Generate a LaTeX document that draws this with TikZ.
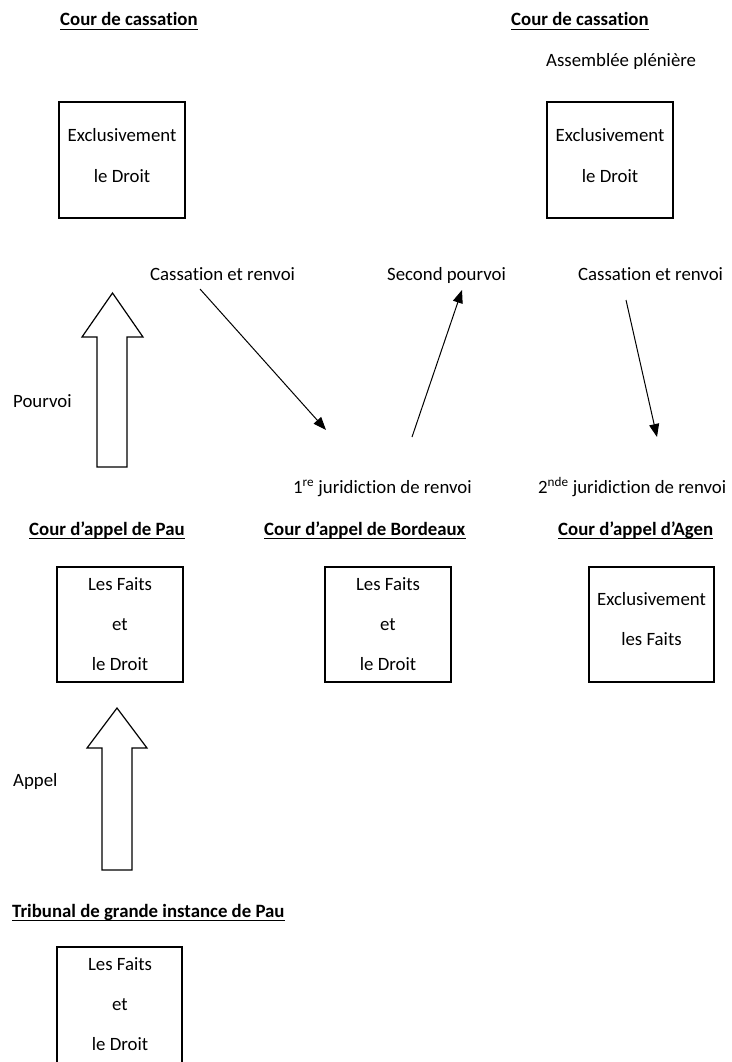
\documentclass[tikz,border=0pt]{standalone}
\usepackage{fontspec}
\setmainfont{Carlito}[Ligatures=NoCommon]
\usetikzlibrary{arrows.meta}
\tikzset{
  txt/.style={inner sep=0pt, anchor=base, font=\fontsize{18.8}{22}\selectfont},
  txtw/.style={inner sep=0pt, anchor=base west, font=\fontsize{18.8}{22}\selectfont},
  ttl/.style={inner sep=0pt, anchor=base west, font=\fontsize{18.8}{22}\selectfont\bfseries},
  ul/.style={line width=1.4pt},
  boxnode/.style={draw, line width=1.3pt, minimum width=126pt, minimum height=116pt, inner sep=0pt},
  thin/.style={line width=1pt, -{Triangle[length=13pt,width=10pt]}},
  blockarrow/.style={draw, line width=1.2pt, line join=miter, fill=white}
}
\begin{document}
\begin{tikzpicture}[x=1pt,y=-1pt]
\clip (0,0) rectangle (731,1062);
\fill[white] (0,0) rectangle (731,1062);

% titles
\node[ttl] (cc1) at (60,26) {Cour de cassation};
\node[ttl] (cc2) at (511,26) {Cour de cassation};
\node[txtw] (ap) at (546,67) {Assemblée plénière};
\node[ttl] (cap) at (29,535) {Cour d’appel de Pau};
\node[ttl] (cab) at (264,535) {Cour d’appel de Bordeaux};
\node[ttl] (caa) at (558,535) {Cour d’appel d’Agen};
\node[ttl] (tgi) at (12,917) {Tribunal de grande instance de Pau};
\foreach \n in {cc1,cc2,cap,cab,caa,tgi}{
  \draw[ul] ([yshift=-3.5pt]\n.base west) -- ([yshift=-3.5pt]\n.base east);
}

% boxes
\node[boxnode] (b1) at (122,160) {};
\node[txt] (b1a) at (122,142) {Exclusivement};
\node[txt] (b1b) at (122,182) {le Droit};

\node[boxnode] (b2) at (610,160) {};
\node[txt] (b2a) at (610,142) {Exclusivement};
\node[txt] (b2b) at (610,182) {le Droit};

\node[boxnode, minimum height=115pt] (bp) at (120,624.5) {};
\node[txt] (bpa) at (120,590) {Les Faits};
\node[txt] (bpb) at (120,630) {et};
\node[txt] (bpc) at (120,670) {le Droit};

\node[boxnode, minimum height=115pt] (bb) at (388,624.5) {};
\node[txt] (bba) at (388,590) {Les Faits};
\node[txt] (bbb) at (388,630) {et};
\node[txt] (bbc) at (388,670) {le Droit};

\node[boxnode, minimum width=125pt, minimum height=115pt] (bg) at (651.5,624.5) {};
\node[txt] (bga) at (651.5,605) {Exclusivement};
\node[txt] (bgb) at (651.5,645) {les Faits};

\node[boxnode, minimum width=125pt, minimum height=118pt] (bt) at (119.5,1006) {};
\node[txt] (bta) at (120,970) {Les Faits};
\node[txt] (btb) at (120,1010) {et};
\node[txt] (btc) at (120,1050) {le Droit};

% labels
\node[txtw] (l1) at (150,280) {Cassation et renvoi};
\node[txtw] (l2) at (387,280) {Second pourvoi};
\node[txtw] (l3) at (578,280) {Cassation et renvoi};
\node[txtw] (l4) at (13,407) {Pourvoi};
\node[txtw] (l5) at (293,493) {1\textsuperscript{re} juridiction de renvoi};
\node[txtw] (l6) at (538,493) {2\textsuperscript{nde} juridiction de renvoi};
\node[txtw] (l7) at (13,786) {Appel};

% block arrows
\draw[blockarrow] (97,467) -- (97,337) -- (82,337) -- (112.5,293) -- (143,337) -- (127,337) -- (127,467) -- cycle;
\draw[blockarrow] (102,870) -- (102,748) -- (87,748) -- (117,708) -- (147,748) -- (132,748) -- (132,870) -- cycle;

% thin arrows
\coordinate (a1s) at (200,289);
\coordinate (a1e) at (326,430);
\coordinate (a2s) at (412,437);
\coordinate (a2e) at (462,290);
\coordinate (a3s) at (626,300);
\coordinate (a3e) at (657,437);
\draw[thin] (a1s) -- (a1e);
\draw[thin] (a2s) -- (a2e);
\draw[thin] (a3s) -- (a3e);
\end{tikzpicture}
\end{document}
